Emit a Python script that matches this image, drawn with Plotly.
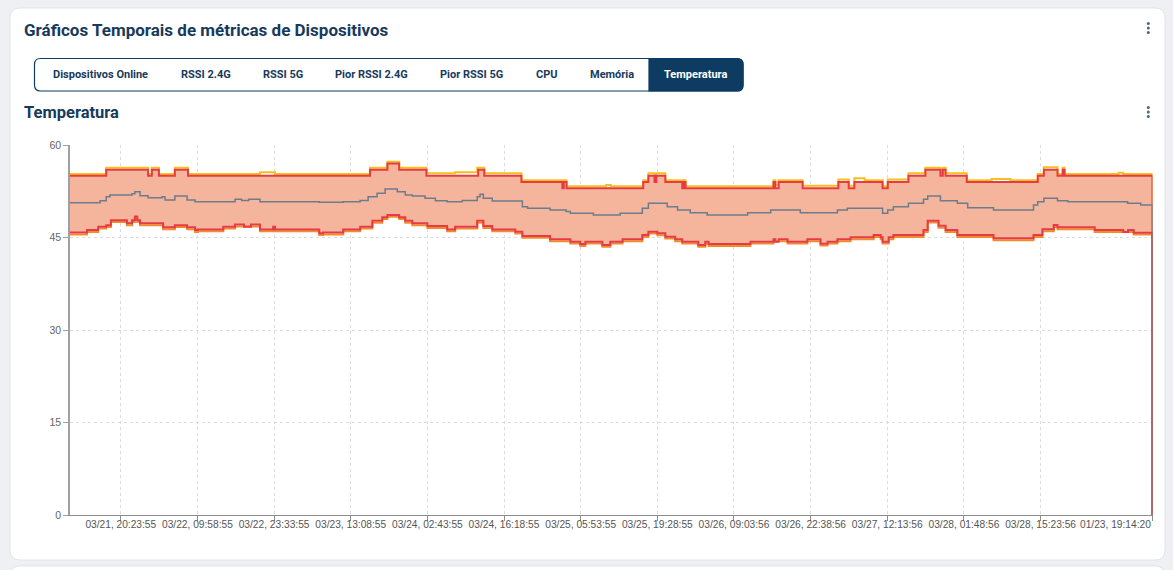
import plotly.graph_objects as go

W, H = 1173, 570

# ---------------- data (x = 5-minute sample index, step breakpoints) ----------------
tick_labels = ["03/21, 20:23:55", "03/22, 09:58:55", "03/22, 23:33:55", "03/23, 13:08:55",
               "03/24, 02:43:55", "03/24, 16:18:55", "03/25, 05:53:55", "03/25, 19:28:55",
               "03/26, 09:03:56", "03/26, 22:38:56", "03/27, 12:13:56", "03/28, 01:48:56",
               "03/28, 15:23:56", "01/23, 19:14:20"]
tick_index = [108, 271, 434, 597, 760, 923, 1086, 1249, 1412, 1575, 1738, 1901, 2064, 2302]

upper_pts = [(0,55),(77,56),(166,55),(174,56),(189,55),(223,56),(251,55),(638,56),(675,57),(700,56),
             (758,55),(868,56),(881,55),(960,54),(1047,53),(1050,54),(1056,53),(1219,54),(1230,55),
             (1243,54),(1247,55),(1266,54),(1302,53),(1305,54),(1309,53),(1496,54),(1500,53),(1507,54),
             (1558,53),(1634,54),(1656,53),(1668,54),(1728,53),(1739,54),(1783,55),(1819,56),(1851,55),
             (1856,56),(1862,55),(1907,54),(2058,55),(2071,56),(2100,55),(2111,56),(2115,55),(2302,0)]

max_pts = [(0,55.3),(77,56.3),(166,55.3),(174,56.3),(189,55.3),(223,56.3),(251,55.3),(404,55.6),(436,55.3),
           (638,56.3),(675,57.3),(700,56.3),(758,55.4),(819,55.6),(866,56.3),(881,55.4),(960,54.3),(1047,53.3),
           (1050,54.3),(1056,53.3),(1140,53.5),(1150,53.3),(1219,54.3),(1230,55.4),(1243,54.4),(1247,55.4),
           (1266,54.3),(1302,53.3),(1305,54.3),(1309,53.3),(1496,54.3),(1500,53.5),(1507,54.3),(1558,53.4),
           (1634,54.4),(1656,53.4),(1668,54.6),(1690,54.3),(1728,53.3),(1739,54.4),(1783,55.4),(1819,56.3),
           (1851,55.4),(1856,56.3),(1862,55.4),(1907,54.3),(1960,54.5),(2000,54.3),(2058,55.3),(2071,56.4),
           (2100,55.3),(2111,56.3),(2115,55.3),(2230,55.5),(2240,55.3),(2302,0)]

lower_pts = [(0,45.8),(36,46.2),(60,46.75),(77,47.0),(87,47.8),(121,47.3),(132,47.8),(138,48.4),(143,47.8),
             (149,47.3),(198,46.65),(223,47.0),(249,46.65),(266,46.2),(272,46.3),(326,46.75),(351,47.1),
             (370,46.75),(385,47.1),(404,46.3),(432,46.75),(436,46.3),(530,45.7),(538,45.8),(581,46.3),
             (617,46.75),(643,47.7),(664,48.3),(675,48.65),(700,48.3),(713,47.7),(728,47.3),(760,46.86),
             (802,46.3),(819,46.75),(866,47.7),(879,46.86),(898,46.3),(947,45.94),(962,45.24),(1021,44.7),
             (1064,44.32),(1085,43.94),(1096,44.32),(1132,43.78),(1149,44.32),(1175,44.7),(1217,45.4),
             (1230,45.94),(1249,45.67),(1266,45.13),(1287,44.7),(1302,44.32),(1336,43.8),(1351,44.32),
             (1358,43.94),(1447,44.32),(1496,44.7),(1500,44.3),(1507,44.7),(1526,44.32),(1568,44.7),
             (1596,44.0),(1611,44.32),(1632,44.7),(1660,45.03),(1709,45.4),(1724,45.03),(1728,44.32),
             (1741,45.03),(1751,45.4),(1815,46.2),(1824,47.73),(1847,46.9),(1862,46.21),(1887,45.4),
             (1964,44.86),(2049,45.4),(2068,46.32),(2092,47.02),(2100,46.65),(2179,46.21),(2240,45.9),
             (2250,46.21),(2262,45.78),(2302,0)]

min_pts = [(0,45.5),(36,45.9),(60,46.45),(77,46.7),(87,47.5),(121,47.0),(132,47.5),(138,48.1),(143,47.5),
           (149,47.0),(198,46.35),(223,46.7),(249,46.35),(266,45.9),(272,46.0),(326,46.45),(351,46.8),
           (404,46.0),(432,46.45),(436,46.0),(530,45.4),(538,45.5),(581,46.0),(617,46.45),(643,47.4),
           (664,48.0),(675,48.35),(700,48.0),(713,47.4),(728,47.0),(760,46.56),(802,46.0),(819,46.45),
           (866,47.4),(879,46.56),(898,46.0),(947,45.64),(962,44.94),(1021,44.4),(1064,44.02),(1085,43.64),
           (1096,44.02),(1132,43.48),(1149,44.02),(1175,44.4),(1217,45.1),(1230,45.64),(1249,45.37),
           (1266,44.83),(1287,44.4),(1302,44.02),(1336,43.5),(1351,44.02),(1358,43.64),(1447,44.02),
           (1496,44.4),(1526,44.02),(1568,44.4),(1596,43.7),(1611,44.02),(1632,44.4),(1660,44.73),
           (1709,45.1),(1724,44.73),(1728,44.02),(1741,44.73),(1751,45.1),(1815,45.9),(1824,47.43),
           (1847,46.6),(1862,45.91),(1887,45.1),(1964,44.56),(2049,45.1),(2068,46.02),(2092,46.72),
           (2100,46.35),(2179,45.91),(2262,45.48),(2302,0)]

mean_pts = [(0,50.65),(64,50.97),(77,51.62),(85,51.89),(132,52.1),(138,52.43),(149,51.78),(166,51.45),
            (196,51.6),(202,51.08),(223,51.73),(249,51.08),(266,50.81),(351,51.19),(365,51.0),(380,51.19),
            (404,50.81),(530,50.7),(581,50.81),(617,51.0),(634,51.62),(653,52.16),(670,52.86),(696,52.43),
            (713,51.89),(728,51.73),(755,51.35),(777,50.97),(802,50.81),(834,51.0),(866,51.6),(872,52.0),
            (879,51.35),(898,50.92),(962,50.0),(973,49.73),(1021,49.46),(1055,49.2),(1064,48.92),(1113,48.65),
            (1170,48.92),(1217,49.73),(1230,50.54),(1270,50.0),(1292,49.46),(1319,49.03),(1355,48.65),
            (1441,49.03),(1490,49.46),(1553,49.03),(1632,49.46),(1653,49.73),(1728,48.92),(1739,49.46),
            (1751,50.0),(1783,50.54),(1815,51.2),(1824,51.73),(1851,50.97),(1887,50.54),(1909,49.84),
            (1964,49.46),(2049,50.27),(2058,50.8),(2071,51.35),(2100,50.97),(2122,50.81),(2249,50.54),
            (2277,50.27),(2302,0)]

tabs = ["Dispositivos Online", "RSSI 2.4G", "RSSI 5G", "Pior RSSI 2.4G", "Pior RSSI 5G", "CPU", "Memória", "Temperatura"]

# ---------------- helpers ----------------
def X(px):
    return px / W

def Y(py):
    return 1 - py / H

def rrect(x0, y0, x1, y1, r, corners=(1, 1, 1, 1)):
    # corners: tl, tr, br, bl
    tl, tr, br, bl = [r if c else 0 for c in corners]
    p = f"M {X(x0+tl)},{Y(y0)} L {X(x1-tr)},{Y(y0)} "
    if tr:
        p += f"Q {X(x1)},{Y(y0)} {X(x1)},{Y(y0+tr)} "
    p += f"L {X(x1)},{Y(y1-br)} "
    if br:
        p += f"Q {X(x1)},{Y(y1)} {X(x1-br)},{Y(y1)} "
    p += f"L {X(x0+bl)},{Y(y1)} "
    if bl:
        p += f"Q {X(x0)},{Y(y1)} {X(x0)},{Y(y1-bl)} "
    p += f"L {X(x0)},{Y(y0+tl)} "
    if tl:
        p += f"Q {X(x0)},{Y(y0)} {X(x0+tl)},{Y(y0)} "
    return p + "Z"

def xs(pts):
    return [p[0] for p in pts]

def ys(pts):
    return [p[1] for p in pts]

RED = "#e63b45"
NAVY = "#0d3b62"
TXT = "#173a5c"

fig = go.Figure()

# band
fig.add_trace(go.Scatter(x=xs(lower_pts), y=ys(lower_pts), mode="lines", line=dict(width=0, shape="hv"),
                         showlegend=False, hoverinfo="skip"))
fig.add_trace(go.Scatter(x=xs(upper_pts), y=ys(upper_pts), mode="lines", line=dict(width=0, shape="hv"),
                         fill="tonexty", fillcolor="#f4b59c", showlegend=False, hoverinfo="skip"))
# max / min
fig.add_trace(go.Scatter(x=xs(max_pts), y=ys(max_pts), mode="lines", name="Máx",
                         line=dict(color="#f6c01c", width=2, shape="hv"), showlegend=False))
fig.add_trace(go.Scatter(x=xs(min_pts), y=ys(min_pts), mode="lines", name="Mín",
                         line=dict(color="#f08d2a", width=2, shape="hv"), showlegend=False))
# red band edges
fig.add_trace(go.Scatter(x=xs(upper_pts), y=ys(upper_pts), mode="lines", name="Superior",
                         line=dict(color=RED, width=2, shape="hv"), showlegend=False))
fig.add_trace(go.Scatter(x=xs(lower_pts), y=ys(lower_pts), mode="lines", name="Inferior",
                         line=dict(color=RED, width=2, shape="hv"), showlegend=False))
# mean
fig.add_trace(go.Scatter(x=xs(mean_pts), y=ys(mean_pts), mode="lines", name="Média",
                         line=dict(color="#6c7c8c", width=1.5, shape="hv"), showlegend=False))

shapes = []
# card
shapes.append(dict(type="path", xref="paper", yref="paper", path=rrect(10, 8, 1165, 560, 10),
                   fillcolor="white", line=dict(color="#e1e4e8", width=1), layer="below"))
# next card hint
shapes.append(dict(type="path", xref="paper", yref="paper", path=rrect(10, 566, 1165, 600, 10),
                   fillcolor="white", line=dict(color="#e1e4e8", width=1), layer="below"))
# tab group
shapes.append(dict(type="path", xref="paper", yref="paper", path=rrect(34.5, 58.5, 743, 91, 6),
                   fillcolor="white", line=dict(color=NAVY, width=1.2), layer="below"))
shapes.append(dict(type="path", xref="paper", yref="paper", path=rrect(649, 58.5, 743, 91, 6, (0, 1, 1, 0)),
                   fillcolor=NAVY, line=dict(color=NAVY, width=1.2), layer="below"))
# kebab menus
for cy in (28, 112):
    for dy in (-4.5, 0, 4.5):
        shapes.append(dict(type="circle", xref="paper", yref="paper",
                           x0=X(1146.8), x1=X(1149.8), y0=Y(cy + dy - 1.5), y1=Y(cy + dy + 1.5),
                           fillcolor="#4e6581", line=dict(width=0)))

annotations = []
annotations.append(dict(text="<b>Gráficos Temporais de métricas de Dispositivos</b>", xref="paper", yref="paper",
                        x=X(22), y=Y(29.5), xanchor="left", yanchor="middle", showarrow=False,
                        font=dict(family="Roboto", size=17, color=TXT)))
annotations.append(dict(text="<b>Temperatura</b>", xref="paper", yref="paper",
                        x=X(22), y=Y(113), xanchor="left", yanchor="middle", showarrow=False,
                        font=dict(family="Roboto", size=16.5, color=TXT)))
tab_centers = [100, 205.5, 282.5, 371.5, 471.5, 546.5, 611.5, 695.5]
for i, (t, cx) in enumerate(zip(tabs, tab_centers)):
    annotations.append(dict(text=f"<b>{t}</b>", xref="paper", yref="paper", x=X(cx), y=Y(74.5),
                            xanchor="center", yanchor="middle", showarrow=False,
                            font=dict(family="Roboto", size=11, color="white" if i == len(tabs) - 1 else TXT)))
# last x label is kept inside the chart (right-aligned to its tick)
annotations.append(dict(text=tick_labels[-1], xref="x", yref="paper", x=tick_index[-1], y=Y(524.5),
                        xanchor="right", yanchor="middle", showarrow=False,
                        font=dict(family="Liberation Sans, Arial", size=10.2, color="#555")))

fig.update_layout(
    template="none",
    width=W, height=H, margin=dict(l=0, r=0, t=0, b=0, pad=0, autoexpand=False),
    paper_bgcolor="#eef0f3", plot_bgcolor="rgba(0,0,0,0)",
    shapes=shapes, annotations=annotations,
    font=dict(family="Liberation Sans, Arial", color="#666"),
    xaxis=dict(domain=[X(70), X(1152.5)], range=[0, 2302], tickmode="array",
               tickvals=tick_index, ticktext=tick_labels[:-1] + [""], tickangle=0,
               showgrid=True, gridcolor="#dcdcdc", griddash="3px,3px", gridwidth=1,
               showline=True, linecolor="#8c8c8c", linewidth=1,
               ticks="outside", ticklen=5, tickcolor="#8c8c8c", automargin=False,
               ticklabelstandoff=-5,
               tickfont=dict(size=10.2, color="#555"), zeroline=False, fixedrange=True),
    yaxis=dict(domain=[Y(515), Y(145)], range=[0, 60], tickmode="array",
               tickvals=[0, 15, 30, 45, 60], ticktext=["0", "15", "30", "45", "60"],
               showgrid=True, gridcolor="#dcdcdc", griddash="3px,3px", gridwidth=1,
               showline=True, linecolor="#a0a0a0", linewidth=1.5,
               ticks="outside", ticklen=5, tickcolor="#a0a0a0", automargin=False,
               tickfont=dict(size=10.5, color="#666"), zeroline=False, fixedrange=True),
    hovermode=False,
)

fig.write_html("out.html", config={"displayModeBar": False},
               post_script="document.body.style.margin='0';document.body.style.overflow='hidden';")
